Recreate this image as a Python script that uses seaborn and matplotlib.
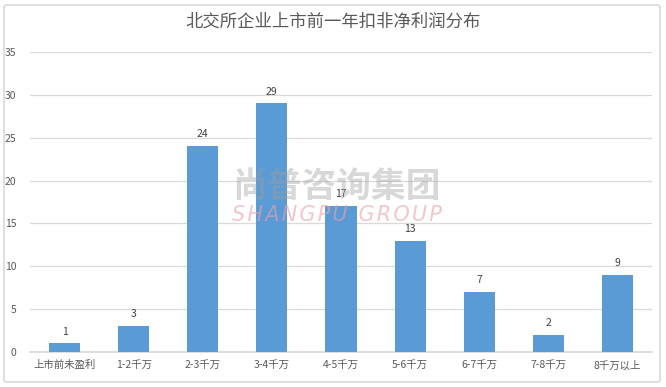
import matplotlib
matplotlib.use("Agg")
import matplotlib.pyplot as plt
from matplotlib.patches import FancyBboxPatch
import seaborn as sns
import pandas as pd

categories = ["上市前未盈利", "1-2千万", "2-3千万", "3-4千万", "4-5千万",
              "5-6千万", "6-7千万", "7-8千万", "8千万以上"]
counts = [1, 3, 24, 29, 17, 13, 7, 2, 9]
y_ticks = [0, 5, 10, 15, 20, 25, 30, 35]
title = "北交所企业上市前一年扣非净利润分布"

sns.set_theme(style="white")
plt.rcParams['font.family'] = ['Noto Sans CJK SC', 'DejaVu Sans']

df = pd.DataFrame({"cat": categories, "n": counts})

fig = plt.figure(figsize=(6.66, 3.87), dpi=100)
ax = fig.add_axes([30 / 666, 1 - 352 / 387, 622 / 666, 300 / 387])

sns.barplot(data=df, x="cat", y="n", color="#5B9BD5", width=0.45,
            saturation=1, linewidth=0, ax=ax, zorder=3)

for i, v in enumerate(counts):
    ax.text(i, v + 0.8, str(v), ha="center", va="bottom",
            fontsize=7.5, color="#404040")

ax.set_ylim(0, 35)
ax.set_yticks(y_ticks)
ax.set_xlim(-0.5, len(categories) - 0.5)
ax.yaxis.grid(True, color="#D9D9D9", linewidth=0.9, zorder=0)
ax.tick_params(axis="y", labelsize=7.5, colors="#595959", length=0, pad=10)
ax.tick_params(axis="x", labelsize=7.5, colors="#595959", length=0, pad=6)
ax.set_xlabel("")
ax.set_ylabel("")
for s in ["top", "right", "left"]:
    ax.spines[s].set_visible(False)
ax.spines["bottom"].set_color("#D9D9D9")

fig.text(0.5, 1 - 22 / 387, title, ha="center", va="center",
         fontsize=12.5, color="#595959")

# watermark
fig.text(337 / 666, 1 - 186 / 387, "尚普咨询集团", ha="center", va="center",
         fontsize=25, fontweight="bold", color="#9E9E9E", alpha=0.4, zorder=10)
mark = "\u200a".join("SHANGPU GROUP")
fig.text(337 / 666, 1 - 215 / 387, mark, ha="center",
         va="center", fontsize=15, style="italic", color="#E8A0AA", alpha=0.6,
         family="DejaVu Sans", zorder=10)

# outer frame
frame = FancyBboxPatch((4 / 666, 5 / 387), 656 / 666, 377 / 387,
                       boxstyle="round,pad=0,rounding_size=0.005",
                       transform=fig.transFigure, fill=False,
                       edgecolor="#D9D9D9", linewidth=1.2)
fig.patches.append(frame)

fig.savefig("out.png", dpi=100)
